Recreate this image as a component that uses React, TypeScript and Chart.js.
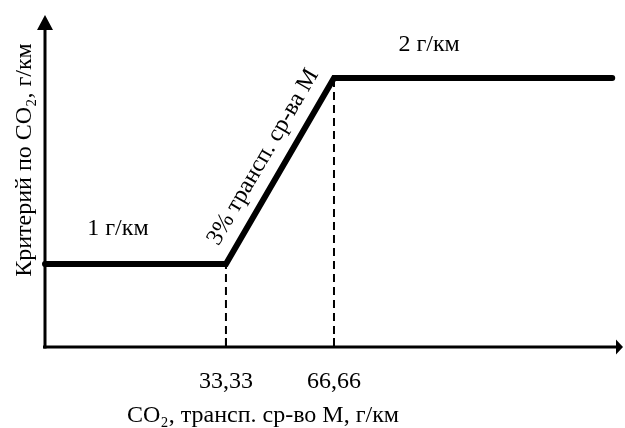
import React, { useEffect, useRef } from "react";
import { Chart, registerables } from "chart.js";

Chart.register(...registerables);

// Schematic data (x: CO2 of vehicle M, g/km; y: criterion, g/km)
const stepX = [-22.5, 33.33, 66.66, 152.5];
const stepY = [1, 1, 2, 2];
const thresholdX = [33.33, 66.66];
const thresholdY = [1, 2];
const tickLabels = ["33,33", "66,66"];
const levelLabels = ["1 г/км", "2 г/км"];
const slopeLabel = "3% трансп. ср-ва М";
const xTitle = "CO₂, трансп. ср-во М, г/км";
const yTitle = "Критерий по CO₂, г/км";

const X_MIN = -22.5;
const X_MAX = 154.9;
const Y_MIN = 0.554;
const Y_MAX = 2.339;

// label anchors (data coordinates)
const levelLabelX = [0, 96];
const levelLabelY = [1.19, 2.177];
const slopeLabelAt = { x: 44.8, y: 1.575 };

const FONT = "'Liberation Serif', 'Times New Roman', serif";
const FS = 24;

const overlayPlugin = {
  id: "overlay",
  afterDatasetsDraw(chart: any) {
    const { ctx, chartArea, scales } = chart;
    const xs = scales.x;
    const ys = scales.y;
    const left = chartArea.left;
    const bottom = chartArea.bottom;
    ctx.save();
    ctx.fillStyle = "#000";
    ctx.strokeStyle = "#000";
    // y axis
    ctx.lineWidth = 3;
    ctx.beginPath();
    ctx.moveTo(left, bottom + 1.5);
    ctx.lineTo(left, chartArea.top + 12);
    ctx.stroke();
    ctx.beginPath();
    ctx.moveTo(left, chartArea.top);
    ctx.lineTo(left - 8, chartArea.top + 15);
    ctx.lineTo(left + 8, chartArea.top + 15);
    ctx.closePath();
    ctx.fill();
    // x axis
    const right = chart.width - 2;
    ctx.beginPath();
    ctx.moveTo(left - 2, bottom);
    ctx.lineTo(right - 6, bottom);
    ctx.stroke();
    ctx.beginPath();
    ctx.moveTo(right, bottom);
    ctx.lineTo(right - 7, bottom - 7.5);
    ctx.lineTo(right - 7, bottom + 7.5);
    ctx.closePath();
    ctx.fill();
    // tick marks
    ctx.lineWidth = 2;
    thresholdX.forEach((v) => {
      const px = xs.getPixelForValue(v);
      ctx.beginPath();
      ctx.moveTo(px, bottom);
      ctx.lineTo(px, bottom - 9);
      ctx.stroke();
    });
    ctx.font = `${FS}px ${FONT}`;
    ctx.textAlign = "center";
    ctx.textBaseline = "middle";
    // level labels
    levelLabels.forEach((t, i) => {
      ctx.fillText(t, xs.getPixelForValue(levelLabelX[i]), ys.getPixelForValue(levelLabelY[i]));
    });
    // x title
    ctx.fillText(xTitle, 263, 416);
    // slope label
    const p1x = xs.getPixelForValue(thresholdX[0]);
    const p1y = ys.getPixelForValue(thresholdY[0]);
    const p2x = xs.getPixelForValue(thresholdX[1]);
    const p2y = ys.getPixelForValue(thresholdY[1]);
    const ang = Math.atan2(p2y - p1y, p2x - p1x);
    ctx.save();
    ctx.translate(xs.getPixelForValue(slopeLabelAt.x), ys.getPixelForValue(slopeLabelAt.y));
    ctx.rotate(ang);
    ctx.fillText(slopeLabel, 0, 0);
    ctx.restore();
    // y title
    ctx.translate(25, 160);
    ctx.rotate(-Math.PI / 2);
    ctx.fillText(yTitle, 0, 0);
    ctx.restore();
  },
};

export default function App() {
  const ref = useRef<HTMLCanvasElement>(null);
  useEffect(() => {
    document.body.style.margin = "0";
    const canvas = ref.current!;
    const chart = new Chart(canvas, {
      type: "line",
      data: {
        datasets: [
          {
            data: stepX.map((x, i) => ({ x, y: stepY[i] })),
            borderColor: "#000",
            borderWidth: 6,
            pointRadius: 0,
            borderCapStyle: "round",
            borderJoinStyle: "miter",
            tension: 0,
            clip: false,
          } as any,
          ...thresholdX.map((x, i) => ({
            data: [
              { x, y: Y_MIN },
              { x, y: thresholdY[i] },
            ],
            borderColor: "#000",
            borderWidth: 2,
            borderDash: [8, 5],
            pointRadius: 0,
            clip: false,
          })),
        ],
      },
      options: {
        responsive: false,
        animation: false,
        events: [],
        layout: { padding: { left: 45, right: 5, top: 15, bottom: 0 } },
        plugins: { legend: { display: false }, tooltip: { enabled: false } },
        scales: {
          x: {
            type: "linear",
            min: X_MIN,
            max: X_MAX,
            grid: { display: false, drawTicks: false },
            border: { display: false },
            afterBuildTicks: (s: any) => {
              s.ticks = thresholdX.map((v) => ({ value: v }));
            },
            afterFit: (s: any) => {
              s.height = 81;
            },
            ticks: {
              autoSkip: false,
              maxRotation: 0,
              padding: 20,
              color: "#000",
              font: { family: FONT, size: FS },
              callback: (_v: any, i: number) => tickLabels[i],
            },
            title: { display: false },
          },
          y: {
            type: "linear",
            display: false,
            min: Y_MIN,
            max: Y_MAX,
          },
        },
      },
      plugins: [overlayPlugin],
    });
    return () => chart.destroy();
  }, []);
  return <canvas ref={ref} width={625} height={428} style={{ display: "block" }} />;
}
